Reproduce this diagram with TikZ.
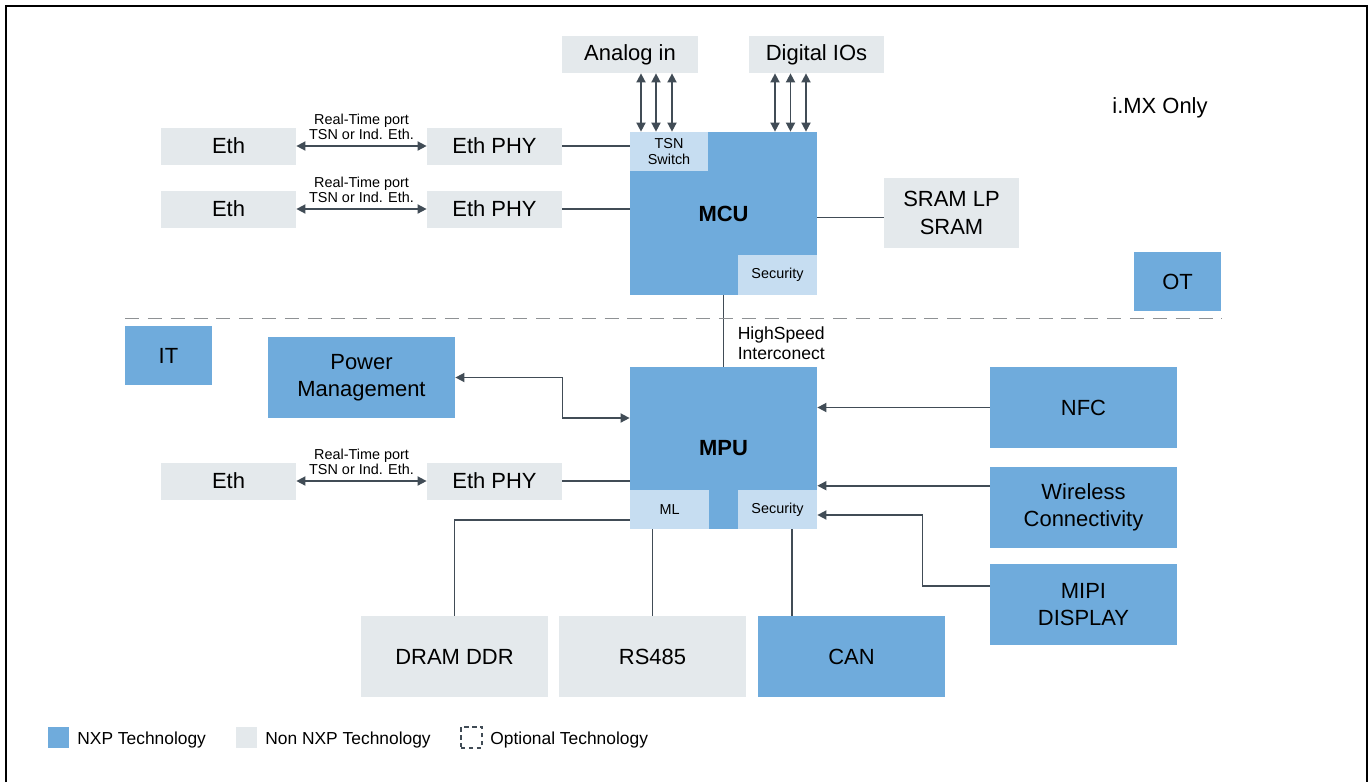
\documentclass[tikz,border=0pt]{standalone}
\usepackage{fontspec}
\setmainfont{Liberation Sans}
\usetikzlibrary{arrows.meta}
\definecolor{nxpblue}{HTML}{6FABDC}
\definecolor{nongray}{HTML}{E4E9EC}
\definecolor{partblue}{HTML}{C6DDF1}
\definecolor{wiregray}{HTML}{414C56}
\definecolor{sepgray}{HTML}{8E9194}

\begin{document}
\begin{tikzpicture}[ x=0.02cm, y=-0.02cm, >={Triangle[length=5.2pt,width=5.2pt]},
    size/.style 2 args={ minimum width=#1*0.02cm, minimum height=#2*0.02cm },
    big/.style={ font=\fontsize{12.5}{15.5}\selectfont, align=center,
    inner sep=0pt }, small/.style={ font=\fontsize{8.2}{8.6}\selectfont,
    align=center, inner sep=0pt }, note/.style={
    font=\fontsize{10}{11.4}\selectfont, align=left, inner sep=0pt },
    legend/.style={ font=\fontsize{9.9}{12}\selectfont, inner sep=0pt,
    anchor=west }, nxp/.style={ big, fill=nxpblue }, other/.style={ big,
    fill=nongray }, part/.style={ small, fill=partblue }, wire/.style={
    draw=wiregray, line width=0.9pt } ]
  \useasboundingbox (0,0) rectangle (1369,782);
  \draw[line width=1.5pt] (6,782) -- (6,6) -- (1367,6) -- (1367,782);

  \node[other,size={136}{37}] (analog) at (630,54.5) {Analog in};
  \node[other,size={135}{37}] (digital) at (816.5,54.5) {Digital IOs};
  \node[nxp,size={187}{163}] (mcu) at (723.5,213.5) {\textbf{MCU}};
  \node[part,size={78}{39}] (tsn) at (669,151.5) {TSN\\Switch};
  \node[part,size={79}{40}] (mcusec) at (777.5,275) {Security};
  \node[other,size={135}{70}] (sram) at (951.5,213) {SRAM LP\\SRAM};
  \node[nxp,size={87}{59}] (ot) at (1177.5,281.5) {OT};
  \node[big] (imx) at (1160,108) {i.MX Only};
  \node[nxp,size={87}{59}] (it) at (168.5,355.5) {IT};
  \node[nxp,size={187}{81}] (power) at (361.5,377.5) {Power\\Management};
  \node[nxp,size={187}{162}] (mpu) at (723.5,448) {\textbf{MPU}};
  \node[part,size={79}{39}] (ml) at (669.5,509.5) {ML};
  \node[part,size={79}{39}] (mpusec) at (777.5,509.5) {Security};
  \foreach \n/\y/\t in {nfc/407.5/NFC,wireless/507.5/{Wireless\\Connectivity},
    mipi/604.5/{MIPI\\DISPLAY}}
  \node[nxp,size={187}{81}] (\n) at (1083.5,\y) {\t};
  \foreach \n/\x/\s/\t in {dram/454.5/other/DRAM DDR,rs485/652.5/other/RS485,
    can/851.5/nxp/CAN}
  \node[\s,size={187}{81}] (\n) at (\x,656.5) {\t};

  \foreach \n/\y in {1/146,2/209,3/481} {
    \node[other,size={135}{37}] (eth\n) at (228.5,\y) {Eth};
    \node[other,size={135}{37}] (phy\n) at (494.5,\y) {Eth PHY};
    \draw[wire,<->] (eth\n) -- node[small,above=3pt] {Real-Time
      port\\TSN or Ind. Eth.} (phy\n);
  }
  \draw[wire] (phy1) -- (phy1 -| tsn.west);
  \draw[wire] (phy2) -- (phy2 -| mcu.west);
  \draw[wire] (phy3) -- (phy3 -| mpu.west);

  \foreach \dx in {11,26,42}
  \draw[wire,<->] ([xshift=\dx*0.02cm]analog.south) --
    ([xshift=\dx*0.02cm]analog.south |- mcu.north);
  \foreach \dx in {-41.5,-26,-10.5}
  \draw[wire,<->] ([xshift=\dx*0.02cm]digital.south) --
    ([xshift=\dx*0.02cm]digital.south |- mcu.north);
  \draw[wire] ([yshift=-0.09cm]sram.west) -- ([yshift=-0.09cm]sram.west -| mcu.east);
  \draw[wire] (mcu.south) -- node[note,anchor=west,pos=0.67,xshift=0.27cm]
    {HighSpeed\\Interconect} (mpu.north);

  \draw[wire,<->] (power.east) -- ++(107,0) |- ([yshift=0.6cm]mpu.west);
  \draw[wire,->] (nfc) -- (nfc -| mpu.east);
  \draw[wire,->] ([yshift=0.436cm]wireless.west) --
    ([yshift=0.436cm]wireless.west -| mpu.east);
  \draw[wire,->] ([yshift=0.37cm]mipi.west) -- ++(-67,0) |-
    ([yshift=-0.11cm]mpusec.east);
  \draw[wire] ([yshift=-0.21cm]ml.west) -| (dram.north);
  \draw[wire] (rs485.north) -- (rs485.north |- ml.south);
  \draw[wire] ([xshift=0.29cm]mpusec.south) -- ([xshift=0.29cm]mpusec.south |- can.north);

  \draw[sepgray,line width=1.1pt,dash pattern=on 8pt off 5pt] (125,318.5) -- (1222,318.5);

  \foreach \n/\x/\c/\t in {nxpkey/48/nxpblue/NXP Technology,
    otherkey/236/nongray/Non NXP Technology}
  {
    \node[fill=\c,inner sep=0pt,size={21}{21}] (\n) at (\x+10.5,737.5) {};
    \node[legend] (\n text) at (\x+29,740) {\t};
  }
  \node[draw=wiregray,line width=0.6pt,dash pattern=on 2.5pt off 2pt,
    inner sep=0pt,size={21}{21}] (optkey) at (471.5,737.5) {};
  \node[legend] (optkey text) at (490,740) {Optional Technology};
\end{tikzpicture}
\end{document}
